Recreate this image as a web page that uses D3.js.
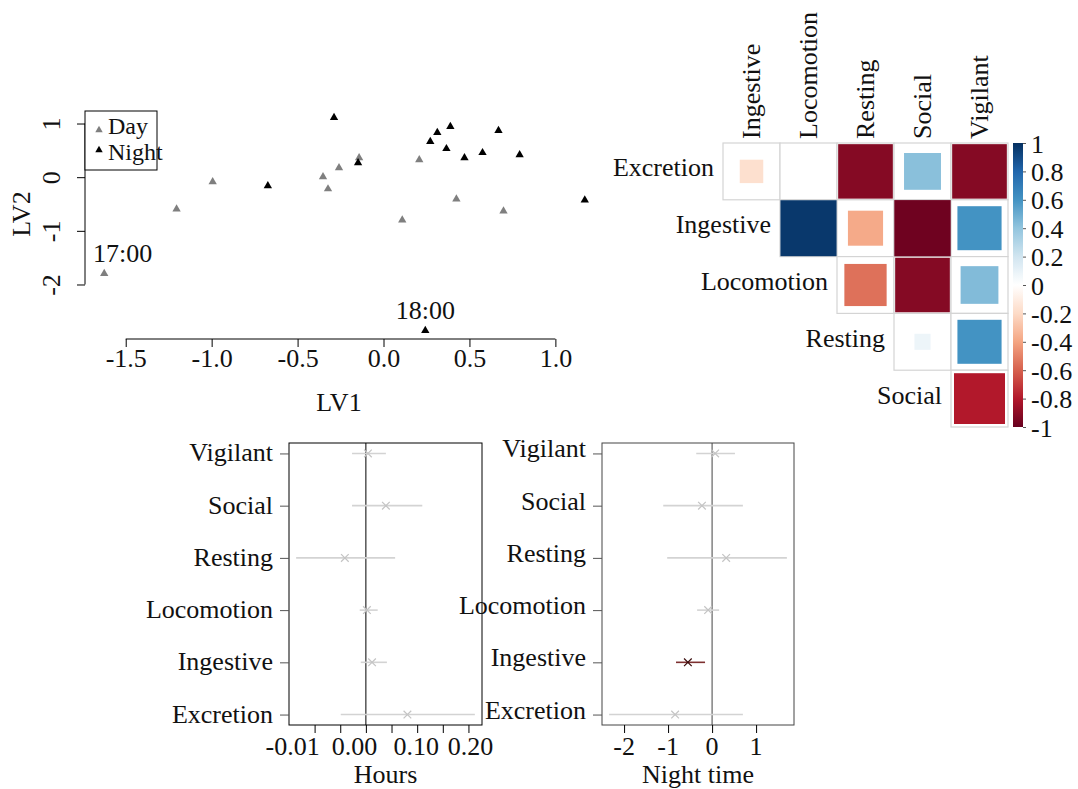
<!DOCTYPE html>
<html>
<head>
<meta charset="utf-8">
<script src="https://cdn.jsdelivr.net/npm/d3@7"></script>
<style>
  body { margin: 0; background: #fff; }
  svg { display: block; }
  text { font-family: "Liberation Serif", "Times New Roman", serif; font-size: 26px; fill: #111; }
</style>
</head>
<body>
<svg id="fig" width="1078" height="789"></svg>
<script>
// ---- Latent-variable scores per hour ----
const dayLV1   = [-1.625, -1.204, -0.994, -0.352, -0.323, -0.259, -0.142, 0.208, 0.109, 0.424, 0.698];
const dayLV2   = [-1.795, -0.594, -0.088, 0.006, -0.219, 0.174, 0.362, 0.324, -0.801, -0.407, -0.632];
const dayLabel = ["17:00", "", "", "", "", "", "", "", "", "", ""];
const nightLV1   = [0.243, -0.288, -0.673, -0.148, 0.272, 0.313, 0.389, 0.366, 0.471, 0.576, 0.669, 0.792, 1.171];
const nightLV2   = [-2.857, 1.112, -0.163, 0.268, 0.662, 0.831, 0.943, 0.531, 0.362, 0.456, 0.868, 0.418, -0.426];
const nightLabel = ["18:00", "", "", "", "", "", "", "", "", "", "", "", ""];
const lv1Ticks = [-1.5, -1.0, -0.5, 0.0, 0.5, 1.0];
const lv2Ticks = [-2, -1, 0, 1];

// ---- Correlations between behaviours (upper triangle) ----
const corRows = ["Excretion", "Ingestive", "Locomotion", "Resting", "Social"];
const corCols = ["Ingestive", "Locomotion", "Resting", "Social", "Vigilant"];
const corExcretion  = [-0.17, 0.00, -0.92, 0.42, -0.92];
const corIngestive  = [0.97, -0.38, -0.98, 0.60];
const corLocomotion = [-0.55, -0.92, 0.44];
const corResting    = [0.08, 0.60];
const corSocial     = [-0.80];
const colorbarTicks = [1, 0.8, 0.6, 0.4, 0.2, 0, -0.2, -0.4, -0.6, -0.8, -1];
const rdbu = ["#67001F", "#B2182B", "#D6604D", "#F4A582", "#FDDBC7", "#FFFFFF",
              "#D1E5F0", "#92C5DE", "#4393C3", "#2166AC", "#053061"];

// ---- Effect estimates with intervals (bottom to top) ----
const behaviours = ["Excretion", "Ingestive", "Locomotion", "Resting", "Social", "Vigilant"];
const hoursEst = [0.081, 0.012, 0.002, -0.041, 0.039, 0.004];
const hoursLo  = [-0.049, -0.010, -0.012, -0.136, -0.027, -0.027];
const hoursHi  = [0.2125, 0.041, 0.023, 0.057, 0.110, 0.039];
const hoursTicks = [-0.10, -0.05, 0, 0.05, 0.10, 0.15, 0.20];
const hoursTickText = ["-0.01", "0.00", "0.10", "0.20"];
const hoursTickTextAt = [-0.143, -0.022, 0.098, 0.204];
const nightEst = [-0.84, -0.55, -0.09, 0.32, -0.23, 0.07];
const nightLo  = [-2.34, -0.82, -0.34, -1.02, -1.11, -0.36];
const nightHi  = [0.70, -0.16, 0.16, 1.70, 0.70, 0.52];
const nightTicks = [-2, -1, 0, 1];

const svg = d3.select("#fig");

// R-style axis range: data extent widened by 4% on each side
function padded(values) {
  const [a, b] = d3.extent(values);
  const p = (b - a) * 0.04;
  return [a - p, b + p];
}

// ================= Scatter of LV1 vs LV2 =================
(function scatter() {
  const g = svg.append("g");
  const x = d3.scaleLinear(padded(dayLV1.concat(nightLV1)), [85, 604]);
  const y = d3.scaleLinear(padded(dayLV2.concat(nightLV2)), [339, 109]);

  // x axis (line spans first to last tick)
  const xa = g.append("g").attr("transform", "translate(0,339)")
    .call(d3.axisBottom(x).tickValues(lv1Ticks).tickSize(8).tickFormat(d3.format(".1f")));
  xa.select(".domain").remove();
  xa.append("line").attr("x1", x(lv1Ticks[0])).attr("x2", x(lv1Ticks[lv1Ticks.length - 1]))
    .attr("stroke", "#000");
  xa.selectAll(".tick line").attr("stroke", "#000");
  xa.selectAll(".tick text").attr("y", 28).attr("dy", 0).style("font-size", "26px")
    .attr("font-family", null).text(d => d3.format(".1f")(d).replace("−", "-"));

  // y axis with labels parallel to the axis
  const ya = g.append("g").attr("transform", "translate(85,0)")
    .call(d3.axisLeft(y).tickValues(lv2Ticks).tickSize(8).tickFormat(""));
  ya.select(".domain").remove();
  ya.append("line").attr("y1", y(lv2Ticks[0])).attr("y2", y(lv2Ticks[lv2Ticks.length - 1]))
    .attr("stroke", "#000");
  ya.selectAll(".tick line").attr("stroke", "#000");
  ya.selectAll(".tick").append("text")
    .attr("transform", "translate(-25,0) rotate(-90)")
    .attr("text-anchor", "middle").attr("fill", "#111")
    .style("font-size", "26px")
    .text(d => String(d));

  g.append("text").attr("x", 339).attr("y", 411).attr("text-anchor", "middle").text("LV1");
  g.append("text").attr("transform", "translate(30,214) rotate(-90)").attr("text-anchor", "middle").text("LV2");

  const tri = d3.symbol(d3.symbolTriangle, 30);
  const groups = [
    { lv1: dayLV1, lv2: dayLV2, lab: dayLabel, color: "#7f7f7f" },
    { lv1: nightLV1, lv2: nightLV2, lab: nightLabel, color: "#000" }
  ];
  groups.forEach(s => {
    const pts = s.lv1.map((v, i) => ({ a: v, b: s.lv2[i], lab: s.lab[i] }));
    g.append("g").selectAll("path").data(pts).join("path")
      .attr("d", tri).attr("fill", s.color)
      .attr("transform", d => `translate(${x(d.a)},${y(d.b)})`);
    // hour labels above their points, kept clear of the y axis
    g.append("g").selectAll("text").data(pts.filter(d => d.lab)).join("text")
      .attr("text-anchor", "middle")
      .attr("y", d => y(d.b) - 11)
      .text(d => d.lab)
      .attr("x", function (d) {
        const w = this.getComputedTextLength();
        return Math.max(x(d.a), 85 + 8 + w / 2);
      });
  });

  // legend
  const lg = g.append("g");
  lg.append("rect").attr("x", 85).attr("y", 111).attr("width", 72).attr("height", 59)
    .attr("fill", "#fff").attr("stroke", "#000");
  [["Day", "#7f7f7f", 130, 134], ["Night", "#000", 150, 160]].forEach(([t, c, ty, by]) => {
    lg.append("path").attr("d", d3.symbol(d3.symbolTriangle, 24)).attr("fill", c)
      .attr("transform", `translate(99,${ty})`);
    lg.append("text").attr("x", 108).attr("y", by).style("font-size", "24px").text(t);
  });
})();

// ================= Correlation matrix =================
(function corrMatrix() {
  const g = svg.append("g");
  const x = d3.scaleBand(corCols, [723, 1008]);
  const y = d3.scaleBand(corRows, [143, 427]);
  const color = d3.scaleLinear(d3.range(rdbu.length).map(i => -1 + 2 * i / (rdbu.length - 1)), rdbu)
    .interpolate(d3.interpolateRgb);
  const rows = [corExcretion, corIngestive, corLocomotion, corResting, corSocial];
  const cells = [];
  rows.forEach((vals, ri) => {
    const offset = corCols.length - vals.length;
    vals.forEach((v, k) => cells.push({ row: corRows[ri], col: corCols[offset + k], v }));
  });
  const bw = x.bandwidth(), bh = y.bandwidth();

  g.append("g").selectAll("rect").data(cells).join("rect")
    .attr("x", d => x(d.col)).attr("y", d => y(d.row))
    .attr("width", bw).attr("height", bh)
    .attr("fill", "#fff").attr("stroke", "#d4d4d4").attr("stroke-width", 1.2);

  // square side proportional to sqrt(|r|)
  g.append("g").selectAll("rect").data(cells.filter(d => d.v !== 0)).join("rect")
    .attr("x", d => x(d.col) + bw * (1 - Math.sqrt(Math.abs(d.v))) / 2)
    .attr("y", d => y(d.row) + bh * (1 - Math.sqrt(Math.abs(d.v))) / 2)
    .attr("width", d => bw * Math.sqrt(Math.abs(d.v)))
    .attr("height", d => bh * Math.sqrt(Math.abs(d.v)))
    .attr("fill", d => color(d.v));

  // row labels just left of each row's first cell
  corRows.forEach((r, ri) => {
    const first = corCols[ri];
    g.append("text").attr("x", x(first) - 9).attr("y", y(r) + bh / 2 + 5)
      .attr("text-anchor", "end").text(r);
  });
  // column labels, vertical
  corCols.forEach(c => {
    g.append("text").attr("transform", `translate(${x(c) + bw / 2 + 8},139) rotate(-90)`)
      .attr("text-anchor", "start").text(c);
  });

  // colour key
  const cy = d3.scaleLinear([-1, 1], [427, 143]);
  const defs = svg.append("defs");
  const grad = defs.append("linearGradient").attr("id", "corrKey")
    .attr("x1", 0).attr("y1", 1).attr("x2", 0).attr("y2", 0);
  d3.range(0, 1.0001, 0.02).forEach(t => {
    grad.append("stop").attr("offset", t).attr("stop-color", color(-1 + 2 * t));
  });
  g.append("rect").attr("x", 1013).attr("y", cy(1)).attr("width", 10)
    .attr("height", cy(-1) - cy(1)).attr("fill", "url(#corrKey)");
  const ka = g.append("g").attr("transform", "translate(1023,0)")
    .call(d3.axisRight(cy).tickValues(colorbarTicks).tickSize(3).tickFormat(""));
  ka.select(".domain").remove();
  ka.selectAll(".tick line").attr("stroke", "#555");
  ka.selectAll(".tick").append("text")
    .attr("x", 8).attr("y", 9).attr("text-anchor", "start").attr("fill", "#111")
    .style("font-size", "26px")
    .text(d => String(d));
})();

// ================= Interval plots =================
function intervalPlot(opt) {
  const g = svg.append("g");
  const all = opt.lo.concat(opt.hi);
  const x = d3.scaleLinear(padded(all), [opt.left, opt.right]);
  const y = d3.scaleLinear([0.8, behaviours.length + 0.2], [725, 443]);
  const rows = behaviours.map((b, i) => ({
    b, pos: i + 1, est: opt.est[i], lo: opt.lo[i], hi: opt.hi[i],
    sig: opt.lo[i] > 0 || opt.hi[i] < 0
  }));

  // zero reference line
  g.append("line").attr("x1", x(0)).attr("x2", x(0)).attr("y1", 443).attr("y2", 725)
    .attr("stroke", opt.frame).attr("stroke-width", 1);

  // intervals
  g.append("g").selectAll("line").data(rows).join("line")
    .attr("x1", d => x(d.lo)).attr("x2", d => x(d.hi))
    .attr("y1", d => y(d.pos)).attr("y2", d => y(d.pos))
    .attr("stroke", d => d.sig ? "#7d3030" : "#d3d3d3").attr("stroke-width", 1.6);
  g.append("g").selectAll("path").data(rows).join("path")
    .attr("d", d3.symbol(d3.symbolX, 40))
    .attr("transform", d => `translate(${x(d.est)},${y(d.pos)})`)
    .attr("fill", "none").attr("stroke", d => d.sig ? "#3a0c0c" : "#c4c4c4").attr("stroke-width", 1.2);

  // frame
  g.append("rect").attr("x", opt.left).attr("y", 443)
    .attr("width", opt.right - opt.left).attr("height", 725 - 443)
    .attr("fill", "none").attr("stroke", opt.frame);

  // category axis
  const ya = g.append("g").attr("transform", `translate(${opt.left},0)`)
    .call(d3.axisLeft(y).tickValues(rows.map(d => d.pos)).tickSize(9).tickFormat(""));
  ya.select(".domain").remove();
  ya.selectAll(".tick line").attr("stroke", "#555");
  g.append("g").selectAll("text").data(rows).join("text")
    .attr("x", opt.left - 16).attr("y", d => y(d.pos) + opt.labelDy)
    .attr("text-anchor", "end").text(d => d.b);

  // value axis
  const xa = g.append("g").attr("transform", "translate(0,725)")
    .call(d3.axisBottom(x).tickValues(opt.ticks).tickSize(8).tickFormat(""));
  xa.select(".domain").remove();
  xa.selectAll(".tick line").attr("stroke", "#000");
  g.append("g").selectAll("text").data(opt.tickText).join("text")
    .attr("x", (d, i) => x(opt.tickTextAt[i])).attr("y", 755)
    .attr("text-anchor", "middle").text(d => d);

  g.append("text").attr("x", (opt.left + opt.right) / 2).attr("y", 783)
    .attr("text-anchor", "middle").text(opt.title);
}

intervalPlot({
  left: 289, right: 482, est: hoursEst, lo: hoursLo, hi: hoursHi,
  ticks: hoursTicks, tickText: hoursTickText, tickTextAt: hoursTickTextAt,
  title: "Hours", frame: "#000", labelDy: 8
});
intervalPlot({
  left: 602, right: 794, est: nightEst, lo: nightLo, hi: nightHi,
  ticks: nightTicks, tickText: nightTicks.map(String), tickTextAt: nightTicks,
  title: "Night time", frame: "#444", labelDy: 4
});
</script>
</body>
</html>
